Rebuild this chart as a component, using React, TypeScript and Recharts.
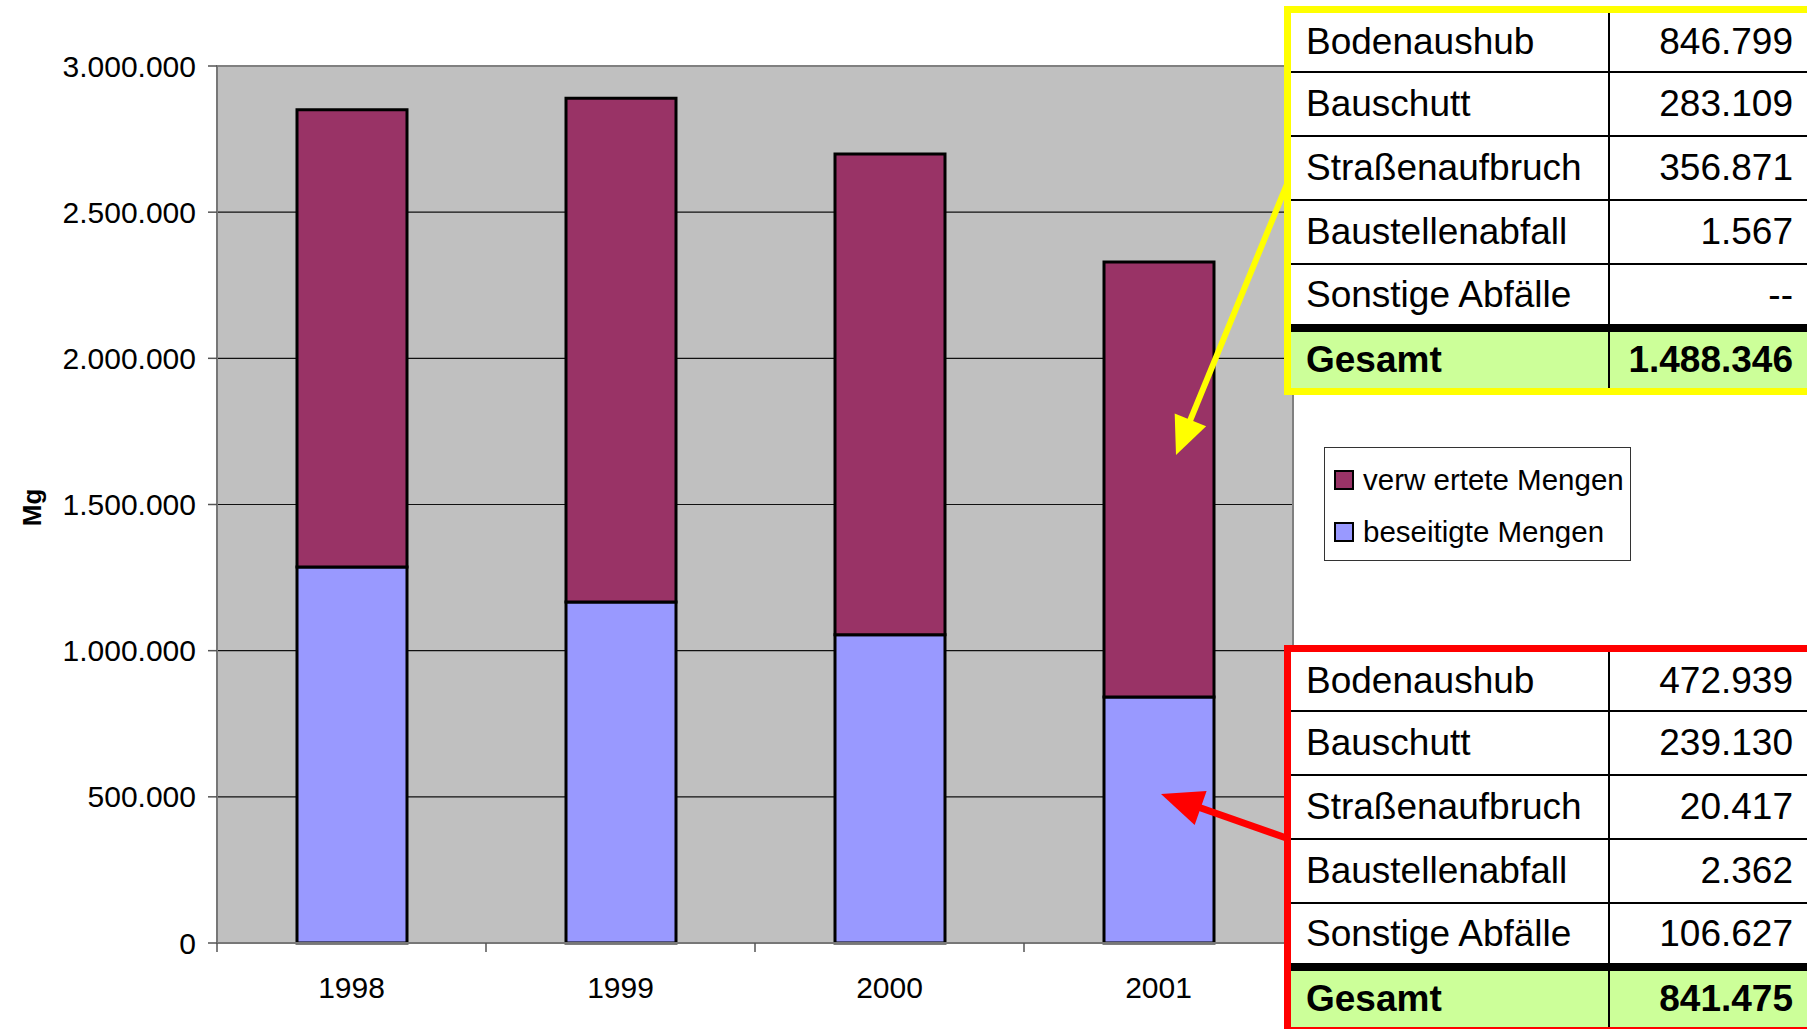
import React from "react";
import {
  BarChart,
  Bar,
  XAxis,
  YAxis,
  CartesianGrid,
  ReferenceArea,
} from "recharts";

// Mengen in Mg je Jahr
const years = ["1998", "1999", "2000", "2001"];
const beseitigt = [1286000, 1166500, 1054300, 841475];
const verwertet = [1564000, 1723100, 1644700, 1488346];
const yTicks = [0, 500000, 1000000, 1500000, 2000000, 2500000, 3000000];

// Aufschlüsselung 2001
const rowLabels = [
  "Bodenaushub",
  "Bauschutt",
  "Straßenaufbruch",
  "Baustellenabfall",
  "Sonstige Abfälle",
];
const verwertetRows = ["846.799", "283.109", "356.871", "1.567", "--"];
const verwertetSum = "1.488.346";
const beseitigtRows = ["472.939", "239.130", "20.417", "2.362", "106.627"];
const beseitigtSum = "841.475";

const FONT = '"Liberation Sans", Arial, sans-serif';
const PLOT_LEFT = 217;
const PLOT_RIGHT = 1293;
const STEP = (PLOT_RIGHT - PLOT_LEFT) / years.length;

const data = years.map((year, i) => ({
  year,
  beseitigt: beseitigt[i],
  verwertet: verwertet[i],
}));

const fmt = (v: number) =>
  String(v).replace(/\B(?=(\d{3})+(?!\d))/g, ".");

function YearTick(props: any) {
  const { x, y, payload } = props;
  return (
    <g>
      <line
        x1={x - STEP / 2}
        x2={x - STEP / 2}
        y1={y}
        y2={y + 9}
        stroke="#555"
        strokeWidth={1.5}
      />
      <text
        x={x}
        y={y + 55}
        textAnchor="middle"
        fontSize={30}
        fontFamily={FONT}
        fill="#000"
      >
        {payload.value}
      </text>
    </g>
  );
}

function Arrow({ from, tip, color, width, len, half }: any) {
  const dx = tip[0] - from[0];
  const dy = tip[1] - from[1];
  const d = Math.sqrt(dx * dx + dy * dy);
  const ux = dx / d;
  const uy = dy / d;
  const bx = tip[0] - ux * len;
  const by = tip[1] - uy * len;
  const pts = [
    [tip[0], tip[1]],
    [bx - uy * half, by + ux * half],
    [bx + uy * half, by - ux * half],
  ]
    .map((p) => p.join(","))
    .join(" ");
  return (
    <g>
      <line
        x1={from[0]}
        y1={from[1]}
        x2={bx + ux * 2}
        y2={by + uy * 2}
        stroke={color}
        strokeWidth={width}
      />
      <polygon points={pts} fill={color} />
    </g>
  );
}

function DetailTable({ top, color, values, sum }: any) {
  const heights = [60, 64, 64, 64, 67];
  const cell = { fontSize: 37, fontFamily: FONT, color: "#000" };
  return (
    <div
      style={{
        position: "absolute",
        left: 1284,
        top,
        width: 560,
        border: `7px solid ${color}`,
        background: "#fff",
      }}
    >
      {rowLabels.map((label, i) => (
        <div
          key={label}
          style={{
            display: "flex",
            height: heights[i],
            boxSizing: "border-box",
            borderBottom: i === 4 ? "8px solid #000" : "2.5px solid #000",
          }}
        >
          <div
            style={{
              ...cell,
              width: 319,
              paddingLeft: 15,
              boxSizing: "border-box",
              borderRight: "2.5px solid #000",
              display: "flex",
              alignItems: "center",
            }}
          >
            {label}
          </div>
          <div
            style={{
              ...cell,
              width: 197,
              paddingRight: 14,
              boxSizing: "border-box",
              display: "flex",
              alignItems: "center",
              justifyContent: "flex-end",
            }}
          >
            {values[i]}
          </div>
        </div>
      ))}
      <div style={{ display: "flex", height: 56, background: "#CCFF99" }}>
        <div
          style={{
            ...cell,
            fontWeight: "bold",
            width: 319,
            paddingLeft: 15,
            boxSizing: "border-box",
            borderRight: "2.5px solid #000",
            display: "flex",
            alignItems: "center",
          }}
        >
          Gesamt
        </div>
        <div
          style={{
            ...cell,
            fontWeight: "bold",
            width: 197,
            paddingRight: 14,
            boxSizing: "border-box",
            display: "flex",
            alignItems: "center",
            justifyContent: "flex-end",
          }}
        >
          {sum}
        </div>
      </div>
    </div>
  );
}

function LegendBox() {
  const items = [
    { name: "verw ertete Mengen", color: "#993366" },
    { name: "beseitigte Mengen", color: "#9999FF" },
  ];
  return (
    <div
      style={{
        position: "absolute",
        left: 1324,
        top: 447,
        width: 307,
        height: 114,
        boxSizing: "border-box",
        border: "1.5px solid #333",
        background: "#fff",
        paddingTop: 6,
      }}
    >
      {items.map((it) => (
        <div
          key={it.name}
          style={{ display: "flex", alignItems: "center", height: 52, paddingLeft: 9 }}
        >
          <div
            style={{
              width: 20,
              height: 20,
              boxSizing: "border-box",
              border: "2.5px solid #000",
              background: it.color,
              marginRight: 9,
            }}
          />
          <span style={{ fontSize: 29.5, fontFamily: FONT, color: "#000" }}>
            {it.name}
          </span>
        </div>
      ))}
    </div>
  );
}

export default function App() {
  return (
    <div
      style={{
        position: "fixed",
        left: 0,
        top: 0,
        width: 1807,
        height: 1029,
        overflow: "hidden",
        background: "#fff",
      }}
    >
      <BarChart
        width={1300}
        height={1029}
        data={data}
        margin={{ top: 66, right: 7, bottom: 26, left: 0 }}
        barCategoryGap="30%"
      >
        <CartesianGrid
          vertical={false}
          stroke="#111"
          strokeWidth={1.2}
          fill="#C0C0C0"
          fillOpacity={1}
        />
        <XAxis
          dataKey="year"
          height={60}
          tickLine={false}
          tickSize={0}
          tickMargin={0}
          axisLine={{ stroke: "#777", strokeWidth: 2 }}
          tick={<YearTick />}
          interval={0}
        />
        <YAxis
          width={PLOT_LEFT}
          domain={[0, 3000000]}
          ticks={yTicks}
          interval={0}
          tickFormatter={fmt}
          tickSize={9}
          tickMargin={12}
          axisLine={{ stroke: "#777", strokeWidth: 2 }}
          tickLine={{ stroke: "#555", strokeWidth: 1.5 }}
          tick={{ fill: "#000", fontSize: 30, fontFamily: FONT }}
          label={{
            content: (p: any) => {
              const vb = p.viewBox || { x: 0, y: 66, height: 877 };
              const cx = 32;
              const cy = vb.y + vb.height / 2 + 3;
              return (
                <text
                  x={cx}
                  y={cy}
                  transform={`rotate(-90 ${cx} ${cy})`}
                  textAnchor="middle"
                  dominantBaseline="central"
                  fontSize={26}
                  fontWeight="bold"
                  fontFamily={FONT}
                  fill="#000"
                >
                  Mg
                </text>
              );
            },
          }}
        />
        <Bar
          dataKey="beseitigt"
          stackId="a"
          fill="#9999FF"
          stroke="#000"
          strokeWidth={3}
          barSize={110}
          isAnimationActive={false}
        />
        <Bar
          dataKey="verwertet"
          stackId="a"
          fill="#993366"
          stroke="#000"
          strokeWidth={3}
          barSize={110}
          isAnimationActive={false}
        />
        <ReferenceArea
          y1={0}
          y2={3000000}
          fill="none"
          stroke="#808080"
          strokeWidth={2}
          ifOverflow="visible"
        />
      </BarChart>

      <svg
        width={1807}
        height={1029}
        style={{ position: "absolute", left: 0, top: 0, pointerEvents: "none" }}
      >
        <Arrow from={[1292, 172]} tip={[1176, 455]} color="#FFFF00" width={6} len={38} half={17} />
        <Arrow from={[1292, 840]} tip={[1161, 794]} color="#FF0000" width={7} len={42} half={18} />
      </svg>

      <LegendBox />
      <DetailTable top={6} color="#FFFF00" values={verwertetRows} sum={verwertetSum} />
      <DetailTable top={645} color="#FF0000" values={beseitigtRows} sum={beseitigtSum} />
    </div>
  );
}
